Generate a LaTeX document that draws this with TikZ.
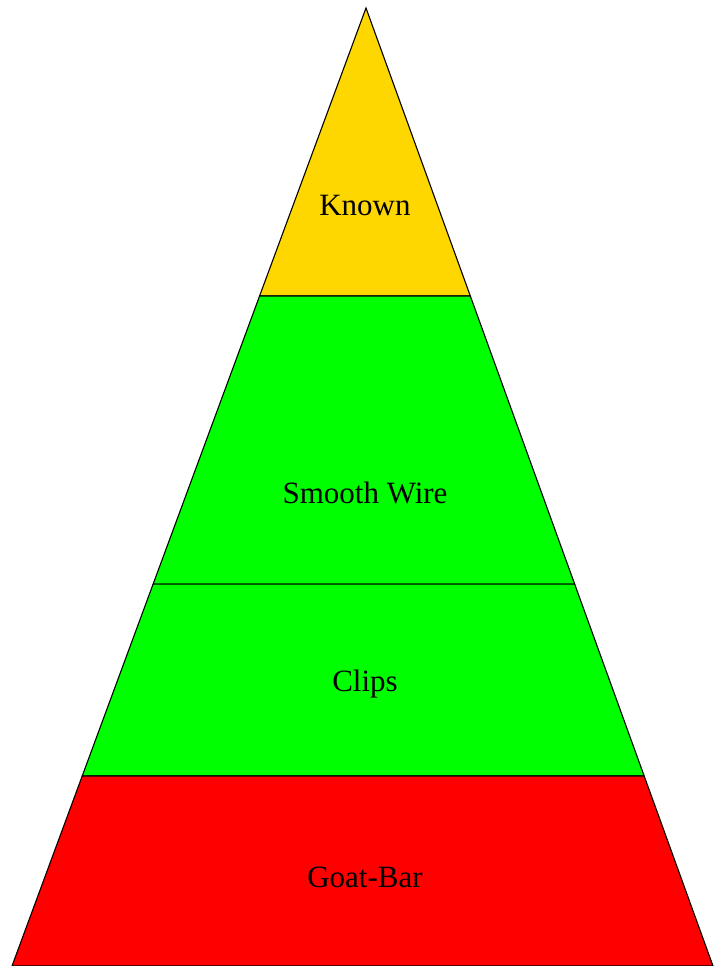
\documentclass[tikz,border=0pt]{standalone}
\usepackage{fontspec}
\setmainfont{Liberation Serif}
\usetikzlibrary{calc}
\definecolor{bandgold}{HTML}{FFD700}
\definecolor{bandgreen}{HTML}{00FF00}
\definecolor{bandred}{HTML}{FF0000}
\tikzset{
  band/.style={draw=black, line width=1.1pt, line join=miter},
  lbl/.style={anchor=base, inner sep=0pt, font=\fontsize{31}{31}\selectfont}
}
\begin{document}
\begin{tikzpicture}[x=1pt,y=-1pt]
\useasboundingbox (0,0) rectangle (713,966);
\coordinate (A) at (366,8);
\coordinate (BL) at (12,966);
\coordinate (BR) at (713,966);
\coordinate (L1) at ($(A)!0.3006!(BL)$);
\coordinate (R1) at ($(A)!0.3006!(BR)$);
\coordinate (L2) at ($(A)!0.6013!(BL)$);
\coordinate (R2) at ($(A)!0.6013!(BR)$);
\coordinate (L3) at ($(A)!0.8017!(BL)$);
\coordinate (R3) at ($(A)!0.8017!(BR)$);
\draw[band, fill=bandgold] (A) -- (R1) -- (L1) -- cycle;
\draw[band, fill=bandgreen] (L1) -- (R1) -- (R2) -- (L2) -- cycle;
\draw[band, fill=bandgreen] (L2) -- (R2) -- (R3) -- (L3) -- cycle;
\draw[band, fill=bandred] (L3) -- (R3) -- (BR) -- (BL) -- cycle;
\node[lbl] (known) at (365,215) {Known};
\node[lbl] (smooth) at (365,503) {Smooth Wire};
\node[lbl] (clips) at (365,691) {Clips};
\node[lbl] (goat) at (365,887) {Goat-Bar};
\end{tikzpicture}
\end{document}
